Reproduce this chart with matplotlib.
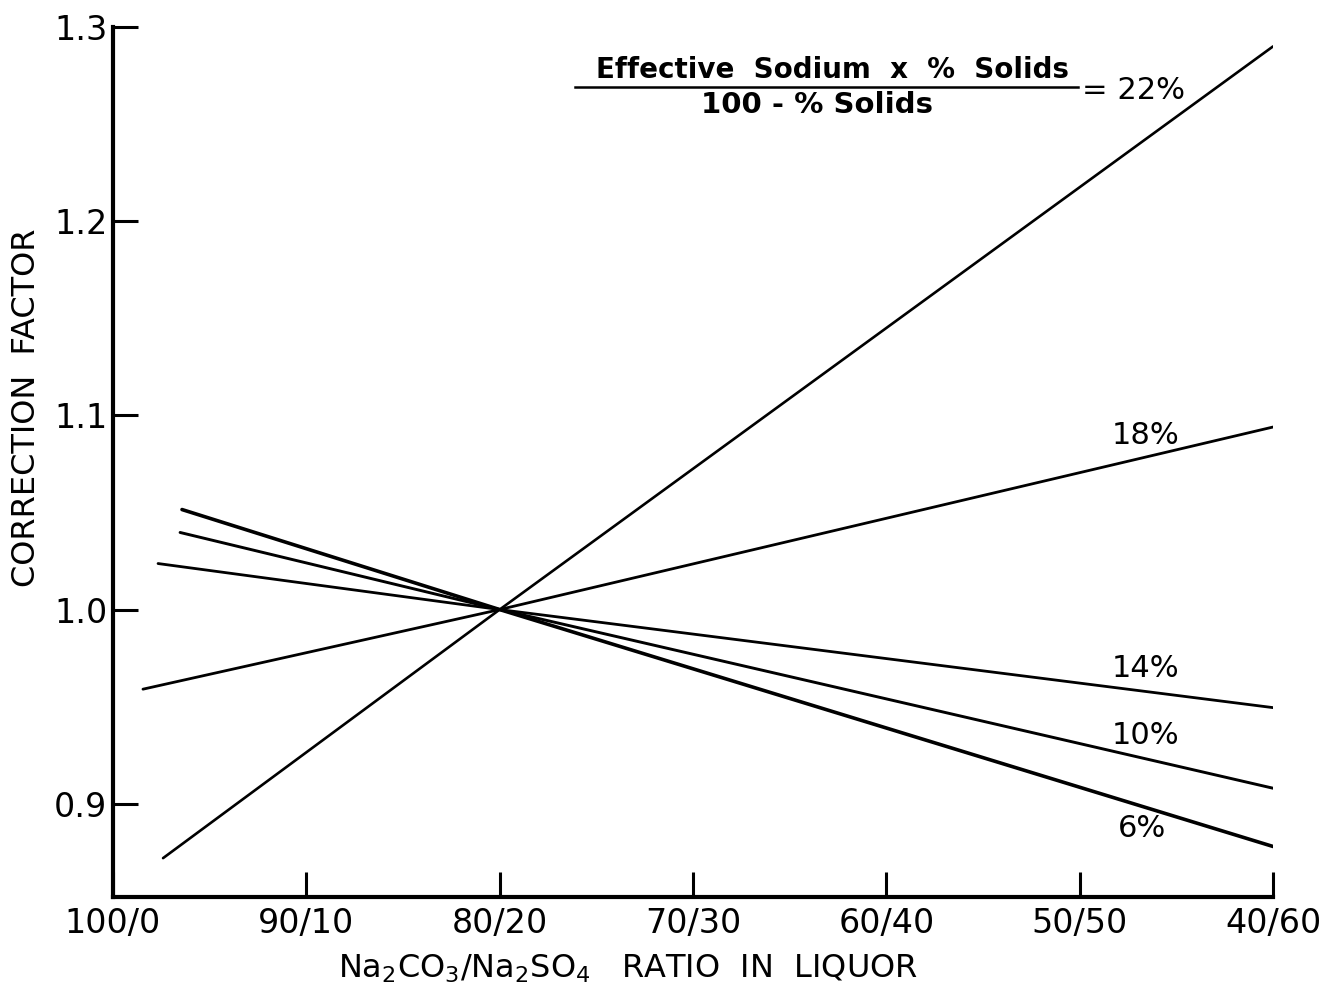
import matplotlib
matplotlib.use("Agg")
import matplotlib.pyplot as plt

plt.rcParams['font.family'] = ['DejaVu Sans']
plt.rcParams['mathtext.default'] = 'regular'

# x = Na2SO4 share in liquor (0 -> 100/0, 60 -> 40/60)
tick_pos = [0, 10, 20, 30, 40, 50, 60]
tick_labels = ['100/0', '90/10', '80/20', '70/30', '60/40', '50/50', '40/60']

series_names = ['6%', '10%', '14%', '18%', '22%']
line_x = [
    [3.57, 20, 60],
    [3.47, 20, 60],
    [2.33, 20, 60],
    [1.55, 20, 60],
    [2.59, 20, 60],
]
line_y = [
    [1.0515, 1.0, 0.878],
    [1.0397, 1.0, 0.908],
    [1.0237, 1.0, 0.9495],
    [0.959, 1.0, 1.094],
    [0.872, 1.0, 1.290],
]
line_widths = [2.6, 2.1, 2.0, 2.0, 1.9]
label_x = [53.2, 53.4, 53.4, 53.4]
label_y = [0.887, 0.935, 0.9696, 1.0897]

fig = plt.figure(figsize=(13.34, 9.92), dpi=100)
ax = fig.add_axes([0.0847, 0.0958, 0.8696, 0.877])

for xs, ys, lw in zip(line_x, line_y, line_widths):
    ax.plot(xs, ys, color='black', lw=lw, solid_capstyle='round')

for name, lx, ly in zip(series_names[:4], label_x, label_y):
    ax.text(lx, ly, name, fontsize=22, ha='center', va='center')

# header fraction for the 22% line
ax.text(37.2, 1.2778, 'Effective  Sodium  x  %  Solids', fontsize=20,
        fontweight='bold', ha='center', va='center')
ax.plot([23.9, 49.9], [1.2692, 1.2692], color='black', lw=1.8)
ax.text(36.4, 1.2600, '100 - % Solids', fontsize=21, fontweight='bold',
        ha='center', va='center')
ax.text(50.1, 1.2675, '= 22%', fontsize=22, ha='left', va='center')

ax.set_xlim(0, 60)
ax.set_ylim(0.852, 1.3)
ax.set_xticks(tick_pos)
ax.set_xticklabels(tick_labels)
ax.set_yticks([0.9, 1.0, 1.1, 1.2, 1.3])
ax.set_yticklabels(['0.9', '1.0', '1.1', '1.2', '1.3'])

ax.tick_params(axis='both', direction='in', length=18, width=2.2, labelsize=24)
ax.tick_params(axis='x', pad=7)
ax.tick_params(axis='y', pad=4)

for s in ['top', 'right']:
    ax.spines[s].set_visible(False)
for s in ['left', 'bottom']:
    ax.spines[s].set_linewidth(3)

ax.set_xlabel(r'Na$_2$CO$_3$/Na$_2$SO$_4$   RATIO  IN  LIQUOR', fontsize=23)
ax.xaxis.set_label_coords(0.444, -0.064)
ax.set_ylabel('CORRECTION  FACTOR', fontsize=23)
ax.yaxis.set_label_coords(-0.061, 0.562)

fig.savefig('out.png', dpi=100)
